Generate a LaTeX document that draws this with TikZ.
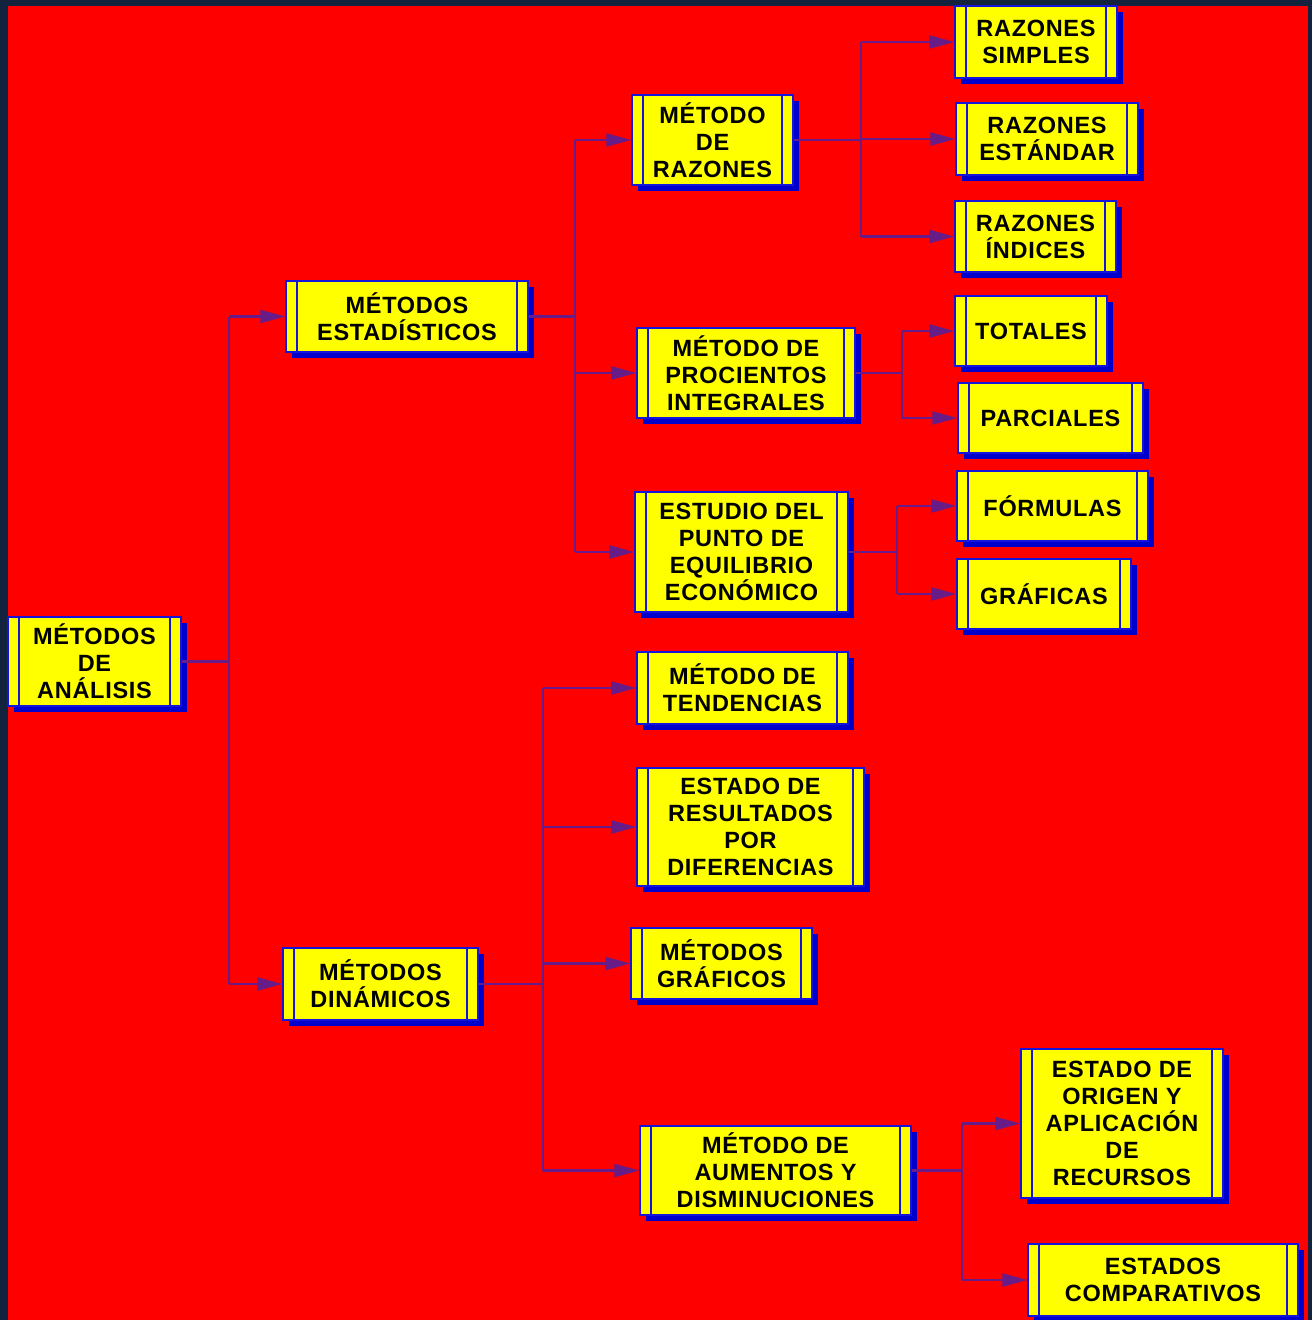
\documentclass[tikz,border=0pt]{standalone}
\usepackage{fontspec}
\setmainfont[LetterSpace=3]{Liberation Sans}
\usetikzlibrary{arrows.meta,shadows}
\definecolor{framec}{RGB}{19,35,61}
\definecolor{bgred}{RGB}{255,0,0}
\definecolor{boxyel}{RGB}{255,255,0}
\definecolor{boxblue}{RGB}{20,20,220}
\definecolor{shblue}{RGB}{0,0,205}
\definecolor{lnpurple}{RGB}{104,28,136}
\tikzset{
  pbox/.style={fill=boxyel, draw=boxblue, line width=1.4pt, inner sep=0pt, align=center,
    font=\fontsize{23.5}{27}\selectfont\bfseries,
    drop shadow={shadow xshift=6pt, shadow yshift=-6pt, fill=shblue, opacity=1},
    path picture={\draw[boxblue,line width=1.4pt]
      ([xshift=11pt]path picture bounding box.north west) -- ([xshift=11pt]path picture bounding box.south west)
      ([xshift=-11pt]path picture bounding box.north east) -- ([xshift=-11pt]path picture bounding box.south east);}},
  ln/.style={draw=lnpurple, line width=2.2pt},
  arr/.style={ln, -{Triangle[length=25pt,width=13pt]}}
}
\newcommand\pb[6]{\node[pbox,minimum width={(#4-#2)*1pt},minimum height={(#5-#3)*1pt}] (#1) at ({(#2+#4)/2},{(#3+#5)/2}) {#6};}
\begin{document}
\begin{tikzpicture}[x=1pt,y=-1pt]
\fill[framec] (0,0) rectangle (1312,1320);
\fill[bgred] (8,6) rectangle (1308,1320);
\useasboundingbox (0,0) rectangle (1312,1320);

\pb{root}{8}{617}{181}{706}{MÉTODOS\\DE\\ANÁLISIS}
\pb{est}{286}{281}{528}{352}{MÉTODOS\\ESTADÍSTICOS}
\pb{din}{283}{948}{478}{1020}{MÉTODOS\\DINÁMICOS}
\pb{raz}{632}{95}{793}{185}{MÉTODO\\DE\\RAZONES}
\pb{proc}{637}{328}{855}{418}{MÉTODO DE\\PROCIENTOS\\INTEGRALES}
\pb{equi}{635}{492}{848}{612}{ESTUDIO DEL\\PUNTO DE\\EQUILIBRIO\\ECONÓMICO}
\pb{ten}{637}{652}{848}{724}{MÉTODO DE\\TENDENCIAS}
\pb{res}{637}{768}{864}{886}{ESTADO DE\\RESULTADOS\\POR\\DIFERENCIAS}
\pb{mg}{631}{928}{812}{999}{MÉTODOS\\GRÁFICOS}
\pb{aum}{640}{1126}{911}{1215}{MÉTODO DE\\AUMENTOS Y\\DISMINUCIONES}
\pb{rs}{955}{6}{1117}{78}{RAZONES\\SIMPLES}
\pb{re}{956}{103}{1138}{175}{RAZONES\\ESTÁNDAR}
\pb{ri}{955}{201}{1116}{272}{RAZONES\\ÍNDICES}
\pb{tot}{955}{296}{1107}{366}{TOTALES}
\pb{par}{958}{383}{1143}{453}{PARCIALES}
\pb{for}{957}{471}{1148}{541}{FÓRMULAS}
\pb{graf}{957}{559}{1131}{629}{GRÁFICAS}
\pb{ori}{1021}{1049}{1223}{1198}{ESTADO DE\\ORIGEN Y\\APLICACIÓN\\DE\\RECURSOS}
\pb{comp}{1028}{1244}{1298}{1316}{ESTADOS\\COMPARATIVOS}

\coordinate (j1) at ([xshift=47pt]root.east);
\coordinate (j2) at ([xshift=46pt]est.east);
\coordinate (j3) at ([xshift=67pt]raz.east);
\coordinate (j4) at ([xshift=46pt]proc.east);
\coordinate (j5) at ([xshift=48pt]equi.east);
\coordinate (j6) at ([xshift=64pt]din.east);
\coordinate (j7) at ([xshift=50pt]aum.east);

% trunks
\draw[ln] (root.east) -- (j1);
\draw[ln] (j1 |- est.west) -- (j1 |- din.west);
\draw[ln] (est.east) -- (j2);
\draw[ln] (j2 |- raz.west) -- (j2 |- equi.west);
\draw[ln] (raz.east) -- (j3);
\draw[ln] (j3 |- rs.west) -- (j3 |- ri.west);
\draw[ln] (proc.east) -- (j4);
\draw[ln] (j4 |- tot.west) -- (j4 |- par.west);
\draw[ln] (equi.east) -- (j5);
\draw[ln] (j5 |- for.west) -- (j5 |- graf.west);
\draw[ln] (din.east) -- (j6);
\draw[ln] (j6 |- ten.west) -- (j6 |- aum.west);
\draw[ln] (aum.east) -- (j7);
\draw[ln] (j7 |- ori.west) -- (j7 |- comp.west);

% branches
\draw[arr] (j1 |- est.west) -- (est.west);
\draw[arr] (j1 |- din.west) -- (din.west);
\draw[arr] (j2 |- raz.west) -- (raz.west);
\draw[arr] (j2 |- proc.west) -- (proc.west);
\draw[arr] (j2 |- equi.west) -- (equi.west);
\draw[arr] (j3 |- rs.west) -- (rs.west);
\draw[arr] (j3 |- re.west) -- (re.west);
\draw[arr] (j3 |- ri.west) -- (ri.west);
\draw[arr] (j4 |- tot.west) -- (tot.west);
\draw[arr] (j4 |- par.west) -- (par.west);
\draw[arr] (j5 |- for.west) -- (for.west);
\draw[arr] (j5 |- graf.west) -- (graf.west);
\draw[arr] (j6 |- ten.west) -- (ten.west);
\draw[arr] (j6 |- res.west) -- (res.west);
\draw[arr] (j6 |- mg.west) -- (mg.west);
\draw[arr] (j6 |- aum.west) -- (aum.west);
\draw[arr] (j7 |- ori.west) -- (ori.west);
\draw[arr] (j7 |- comp.west) -- (comp.west);
\end{tikzpicture}
\end{document}
